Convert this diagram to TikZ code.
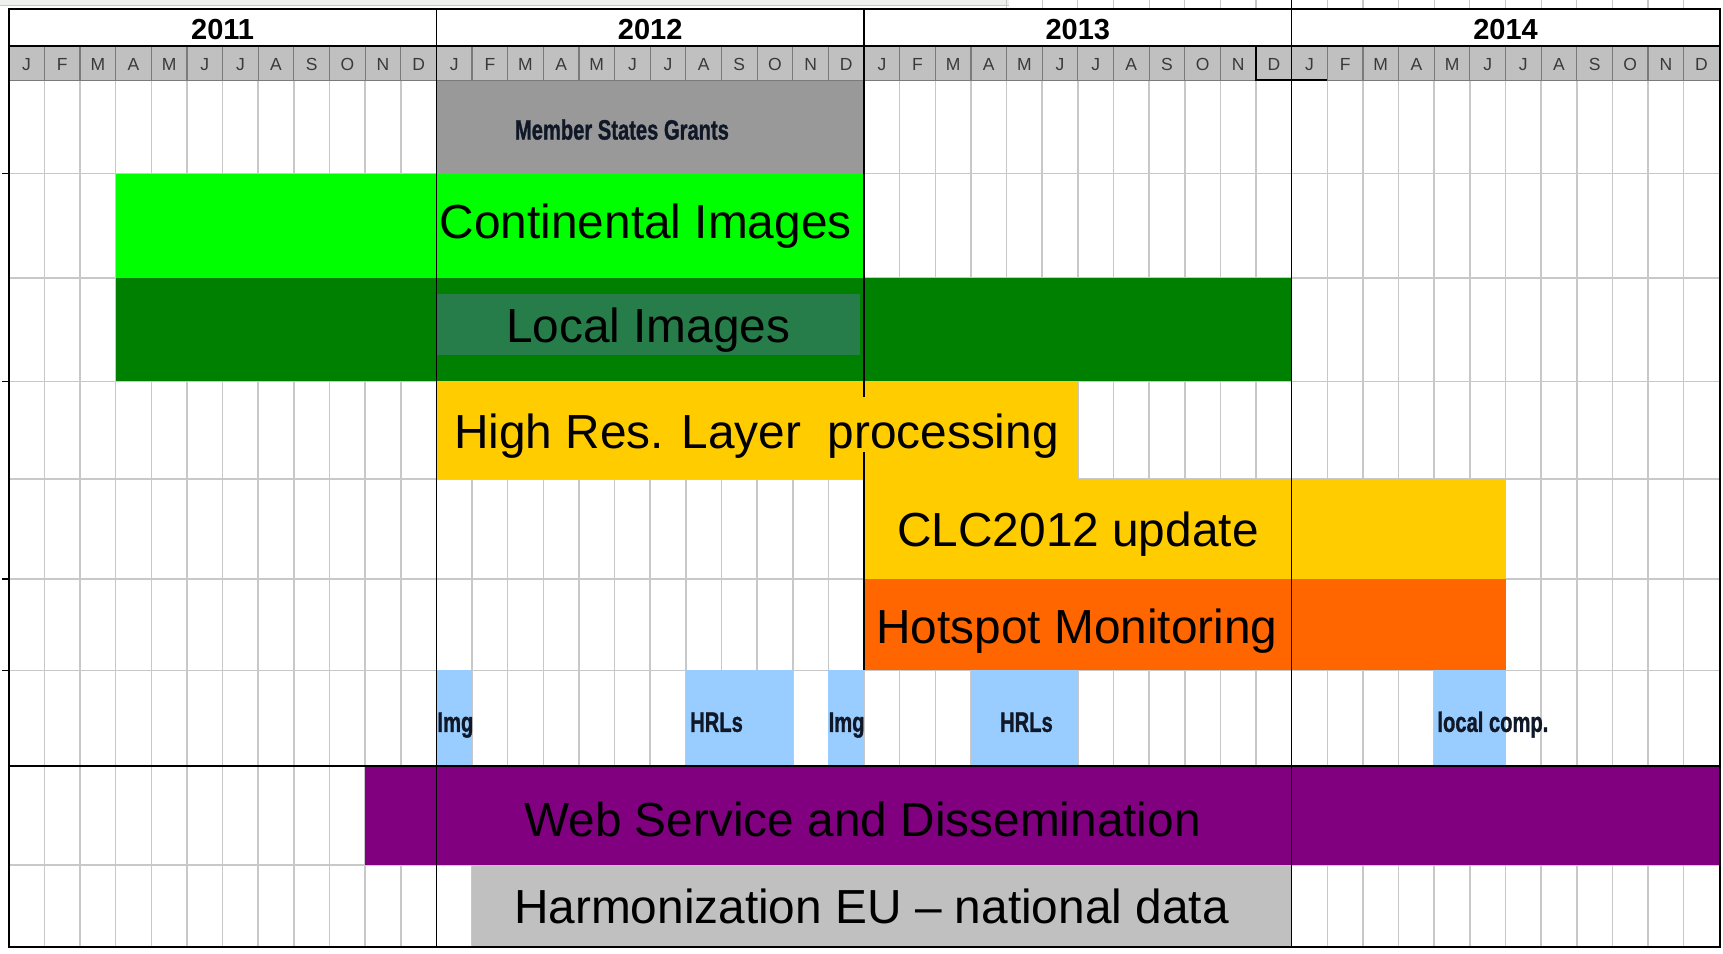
\documentclass[tikz,border=0pt]{standalone}
\usepackage{fontspec}
\usepackage{graphicx}
\setmainfont{Liberation Sans}
\newfontfamily\heavyfont[FakeBold=1.3]{Liberation Sans}
\definecolor{gridgray}{HTML}{C8C8C8}
\definecolor{monthgray}{HTML}{C0C0C0}
\definecolor{monthline}{HTML}{7A7A7A}
\definecolor{monthtext}{HTML}{3A3A3A}
\definecolor{msgray}{HTML}{999999}
\definecolor{contgreen}{HTML}{00FF00}
\definecolor{localgreen}{HTML}{008000}
\definecolor{localinner}{HTML}{277D4A}
\definecolor{hryellow}{HTML}{FFCC00}
\definecolor{hotorange}{HTML}{FF6600}
\definecolor{lightblue}{HTML}{99CCFF}
\definecolor{webpurple}{HTML}{800080}
\definecolor{harmgray}{HTML}{C0C0C0}
\definecolor{topband}{HTML}{EEF2EE}
\definecolor{smalltext}{HTML}{101828}
\tikzset{
  gridline/.style={draw=gridgray, line width=1.5pt},
  yearline/.style={draw=black, line width=1.4pt},
  biglabel/.style={font=\fontsize{47.8}{50}\selectfont, inner sep=0pt, text=black},
  smalllabel/.style={font=\heavyfont\bfseries\fontsize{28}{30}\selectfont, inner sep=0pt, text=smalltext, xscale=0.72, transform shape},
  yearlabel/.style={font=\fontsize{29}{31}\selectfont\bfseries, inner sep=0pt},
  monthlabel/.style={font=\fontsize{17.5}{19}\selectfont, inner sep=0pt, text=monthtext},
}
\begin{document}
\begin{tikzpicture}[x=1.0989pt, y=-1.0989pt,
  declare function={mx(\k)=8+\k*32.43;}]
\useasboundingbox (0,0) rectangle (1568,868);
\fill[white] (0,0) rectangle (1568,868);
% top cut-off band
\fill[topband] (0,0) rectangle (918,5);
\draw[gridgray, line width=1pt] (0,5) -- (918,5);
\foreach \k in {28,...,47} \draw[gridgray, line width=1.2pt] ({mx(\k)},0) -- ({mx(\k)},8);
\draw[black, line width=1.4pt] ({mx(36)},0) -- ({mx(36)},8);
% body grid
\foreach \k in {1,...,47} \draw[gridline] ({mx(\k)},73) -- ({mx(\k)},862);
\foreach \y in {158,253,347,436,527,610,787} \draw[gridline] (8,\y) -- (1565,\y);
% bars
\fill[msgray] ({mx(12)},73) rectangle ({mx(24)},158);
\fill[contgreen] ({mx(3)},158) rectangle ({mx(24)},253);
\fill[localgreen] ({mx(3)},253) rectangle ({mx(36)},347);
\fill[localinner] ({mx(12)},268) rectangle (783,323);
\fill[hryellow] ({mx(12)},347) rectangle ({mx(30)},436);
\fill[hryellow] ({mx(24)},436) rectangle ({mx(42)},527);
\fill[hotorange] ({mx(24)},527) rectangle ({mx(42)},610);
\fill[lightblue] ({mx(12)},610) rectangle ({mx(13)},697);
\fill[lightblue] ({mx(19)},610) rectangle ({mx(22)},697);
\fill[lightblue] ({mx(23)},610) rectangle ({mx(24)},697);
\fill[lightblue] ({mx(27)},610) rectangle ({mx(30)},697);
\fill[lightblue] ({mx(40)},610) rectangle ({mx(42)},697);
\fill[webpurple] ({mx(10)},697) rectangle ({mx(48)},787);
\fill[harmgray] ({mx(13)},787) rectangle ({mx(36)},862);
% header
\fill[white] (8,8) rectangle (1565,42);
\fill[monthgray] (8,42) rectangle (1565,73);
\foreach \k in {1,...,47} \draw[monthline, line width=1.2pt] ({mx(\k)},42) -- ({mx(\k)},73);
\foreach \yy in {0,1,2} \draw[yellow!85!black, dotted, line width=1.2pt] ({mx(12*\yy+2)},73.5) -- ({mx(12*\yy+9)},73.5);
\draw[black, line width=1.4pt] (8,42) -- (1565,42);
\draw[monthline, line width=1pt] (8,73) -- (1565,73);
\draw[black, line width=2pt] ({mx(35)},42) -- ({mx(35)},73) -- ({mx(37)},73);
% year separators and borders
\draw[yearline] ({mx(12)},8) -- ({mx(12)},862);
\draw[yearline] ({mx(24)},8) -- ({mx(24)},361);
\draw[yearline] ({mx(24)},411) -- ({mx(24)},610);
\draw[yearline] ({mx(36)},8) -- ({mx(36)},862);
\draw[black, line width=2.5pt] (8,697) -- (1565,697);
\draw[black, line width=1.6pt] (8,8) rectangle (1565,862);
\foreach \y in {158,347,527,610} \draw[black, line width=1.4pt] (2,\y) -- (8,\y);
% year labels
\foreach \yr [count=\i from 0] in {2011,2012,2013,2014}
  \node[yearlabel, anchor=base] (y\yr) at ({mx(12*\i+6)},36) {\yr};
% month labels
\foreach \yy in {0,1,2,3}
  \foreach \l [count=\i from 0] in {J,F,M,A,M,J,J,A,S,O,N,D}
    \node[monthlabel, anchor=base] (m\yy-\i) at ({mx(12*\yy+\i+0.5)},64) {\l};
% bar labels
\node[smalllabel, anchor=base] (msg) at (566,127) {Member States Grants};
\node[biglabel, anchor=base west] (cont) at (400,217) {Continental Images};
\node[biglabel, anchor=base] (local) at (590,312) {Local Images};
\node[biglabel, anchor=base west] (hrl) at (413,408) {High Res. Layer~~processing};
\node[biglabel, anchor=base] (clc) at (981,497) {CLC2012 update};
\node[biglabel, anchor=base] (hot) at (980,586) {Hotspot Monitoring};
\node[smalllabel, anchor=base west] (img1) at (398,666) {Img};
\node[smalllabel, anchor=base west] (hrls1) at (628,666) {HRLs};
\node[smalllabel, anchor=base west] (img2) at (754,666) {Img};
\node[smalllabel, anchor=base west] (hrls2) at (910,666) {HRLs};
\node[smalllabel, anchor=base west] (lcomp) at (1308,666) {local comp.};
\node[biglabel, anchor=base] (web) at (785,761) {Web Service and Dissemination};
\node[biglabel, anchor=base] (harm) at (793,840) {Harmonization EU – national data};
\end{tikzpicture}
\end{document}
